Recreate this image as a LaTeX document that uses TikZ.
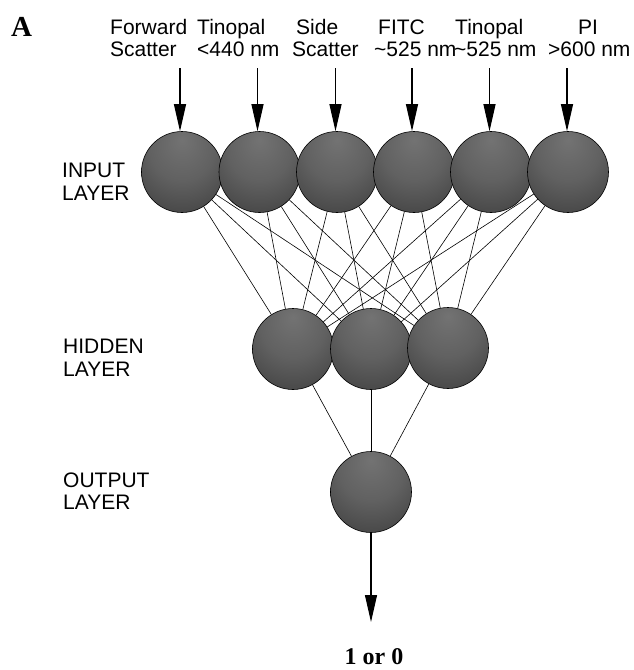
\documentclass[tikz,border=0pt]{standalone}
\usepackage{fontspec}
\setmainfont{Liberation Sans}
\newfontfamily\serifbold{Liberation Serif}[BoldFont={* Bold}]
\usetikzlibrary{arrows.meta,backgrounds}
\pgfdeclareradialshading{sphereshade}{\pgfpoint{0bp}{20bp}}{%
  color(0bp)=(black!55); color(20bp)=(black!62); color(40bp)=(black!74);
  color(55bp)=(black!85); color(75bp)=(black!90)}
\tikzset{
  neuron/.style={circle, minimum size=81pt, inner sep=0pt, draw=black,
    line width=0.6pt, shading=sphereshade},
  lbl/.style={inner sep=0pt, anchor=base west, font=\fontsize{21}{22}\selectfont},
  inarrow/.style={line width=1.1pt, -{Triangle[length=27pt,width=12pt]}},
  link/.style={line width=0.6pt, black}
}
\begin{document}
\begin{tikzpicture}[x=1pt,y=-1pt]
\useasboundingbox (0,0) rectangle (634,670);
% panel letter
\node[inner sep=0pt, anchor=base west, font=\serifbold\bfseries\fontsize{29}{29}\selectfont] (panel) at (11,36) {A};
% top labels
\node[lbl] (l1a) at (110,34) {Forward};
\node[lbl] (l1b) at (110,56) {Scatter};
\node[lbl] (l2a) at (197,34) {Tinopal};
\node[lbl] (l2b) at (197,56) {<440 nm};
\node[lbl] (l3a) at (296,34) {Side};
\node[lbl] (l3b) at (292,56) {Scatter};
\node[lbl] (l4a) at (378,34) {FITC};
\node[lbl] (l4b) at (374,56) {\textasciitilde525 nm};
\node[lbl] (l5a) at (455,34) {Tinopal};
\node[lbl] (l5b) at (454,56) {\textasciitilde525 nm};
\node[lbl] (l6a) at (578,34) {PI};
\node[lbl] (l6b) at (548,56) {>600 nm};
% layer labels
\node[lbl] (inA) at (62,177) {INPUT};
\node[lbl] (inB) at (62,200) {LAYER};
\node[lbl] (hiA) at (63,353) {HIDDEN};
\node[lbl] (hiB) at (63,376) {LAYER};
\node[lbl] (ouA) at (63,487) {OUTPUT};
\node[lbl] (ouB) at (63,509) {LAYER};
% neurons
\node[neuron] (in1) at (182,172) {};
\node[neuron] (in2) at (259.5,172) {};
\node[neuron] (in3) at (337,172) {};
\node[neuron] (in4) at (414,172) {};
\node[neuron] (in5) at (491,172) {};
\node[neuron] (in6) at (568,172) {};
\node[neuron] (hid1) at (293,349) {};
\node[neuron] (hid2) at (371,349) {};
\node[neuron] (hid3) at (448,348) {};
\node[neuron] (out) at (371,492) {};
% input arrows
\foreach \i/\x in {1/180,2/257.5,3/335.5,4/412,5/489.5,6/567}{
  \coordinate (s\i) at (\x,68);
  \draw[inarrow] (s\i) -- (s\i |- in\i.north);
}
% connections
\begin{scope}[on background layer]
\foreach \i in {1,...,6}{
  \foreach \j in {1,2,3}{
    \draw[link] (in\i) -- (hid\j);
  }
}
\foreach \j in {1,2,3}{
  \draw[link] (hid\j) -- (out);
}
\end{scope}
% output arrow
\coordinate (res) at (371,622);
\draw[inarrow] (out) -- (res);
\node[inner sep=0pt, anchor=base, font=\serifbold\bfseries\fontsize{24}{24}\selectfont] (result) at (374,664) {1 or 0};
\end{tikzpicture}
\end{document}
